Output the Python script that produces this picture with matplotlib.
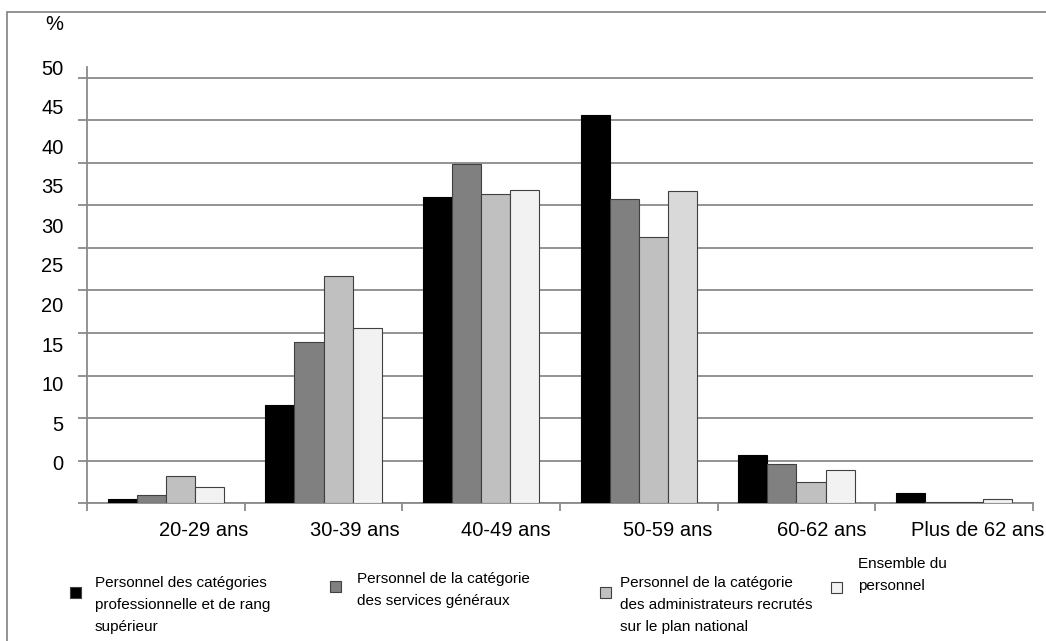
import numpy as np
import matplotlib.pyplot as plt
from matplotlib.patches import Rectangle

plt.rcParams['font.family'] = ['Liberation Sans', 'DejaVu Sans']

# age groups and share of staff (%) for each category
age_groups = ['20-29 ans', '30-39 ans', '40-49 ans', '50-59 ans', '60-62 ans', 'Plus de 62 ans']
series_names = [
    'Personnel des catégories\nprofessionnelle et de rang\nsupérieur',
    'Personnel de la catégorie\ndes services généraux',
    'Personnel de la catégorie\ndes administrateurs recrutés\nsur le plan national',
    'Ensemble du\npersonnel',
]
pro_superieur = [0.5, 11.5, 36.0, 45.6, 5.65, 1.2]
services_generaux = [1.0, 19.0, 39.8, 35.7, 4.65, 0.1]
admin_national = [3.2, 26.7, 36.3, 31.3, 2.5, 0.2]
ensemble = [1.9, 20.6, 36.8, 36.7, 3.9, 0.55]
series = [pro_superieur, services_generaux, admin_national, ensemble]

y_labels = ['0', '5', '10', '15', '20', '25', '30', '35', '40', '45', '50']

colors = ['#000000', '#808080', '#c0c0c0', '#f2f2f2']
# one bar in the 50-59 group is filled a shade darker
special_fill = {(3, 3): '#d9d9d9'}
grid_col = '#8a8a8a'

W, H = 1046, 641
fig = plt.figure(figsize=(W / 100, H / 100), dpi=100)

# outer frame
fig.patches.append(Rectangle((7 / W, -0.1), 1.2, 1.1 - 12 / H,
                             transform=fig.transFigure, fill=False,
                             edgecolor=grid_col, linewidth=1.3))

ax = fig.add_axes([87 / W, (H - 503.3) / H, (1033 - 87) / W, (503.3 - 67.3) / H])

x = np.arange(len(age_groups))
bw = 0.184
for j, vals in enumerate(series):
    fills = [special_fill.get((i, j), colors[j]) for i in range(len(vals))]
    edge = '#000000' if j == 0 else '#404040'
    ax.bar(x + (j - 1.5) * bw, vals, width=bw, color=fills,
           edgecolor=edge, linewidth=0.8, zorder=3)

ax.set_xlim(-0.5, 5.5)
ax.set_ylim(0, 50)

# gridlines and tick marks at every 5 %
ax.set_yticks(np.arange(0, 51, 5))
ax.set_yticklabels([])
ax.yaxis.grid(True, color=grid_col, linewidth=1.3, zorder=0)
ax.tick_params(axis='y', which='major', length=6.5, width=1.3, color=grid_col)

# value labels sit on their own positions along the axis
ax.set_yticks(np.linspace(4.77, 51.2, len(y_labels)), minor=True)
ax.set_yticklabels(y_labels, minor=True, fontsize=14.5)
ax.tick_params(axis='y', which='minor', length=0, pad=17)

# category boundaries as ticks, names as minor tick labels
ax.set_xticks(np.arange(-0.5, 6.0, 1.0))
ax.set_xticklabels([])
ax.tick_params(axis='x', which='major', length=6, width=1.3, color=grid_col)
ax.set_xticks([0.242, 1.2, 2.157, 3.185, 4.16, 5.15], minor=True)
ax.set_xticklabels(age_groups, minor=True, fontsize=14.5)
ax.tick_params(axis='x', which='minor', length=0, pad=13)

for s in ['top', 'right']:
    ax.spines[s].set_visible(False)
for s in ['left', 'bottom']:
    ax.spines[s].set_color(grid_col)
    ax.spines[s].set_linewidth(1.3)

fig.text(63 / W, 1 - 25 / H, '%', ha='right', va='center', fontsize=14.5)

# legend built by hand: square marker then wrapped label
marker_pos = [(75, 592), (335, 586), (605, 592), (836, 587)]
text_pos = [(95, 605), (357, 590), (620, 605), (858, 575)]
for j, name in enumerate(series_names):
    mx, my = marker_pos[j]
    fig.patches.append(Rectangle(((mx - 5.5) / W, 1 - (my + 5.5) / H), 11 / W, 11 / H,
                                 transform=fig.transFigure, facecolor=colors[j],
                                 edgecolor='#404040', linewidth=0.8))
    tx, ty = text_pos[j]
    fig.text(tx / W, 1 - ty / H, name, ha='left', va='center',
             fontsize=11, linespacing=1.75)

fig.savefig('out.png', dpi=100)
